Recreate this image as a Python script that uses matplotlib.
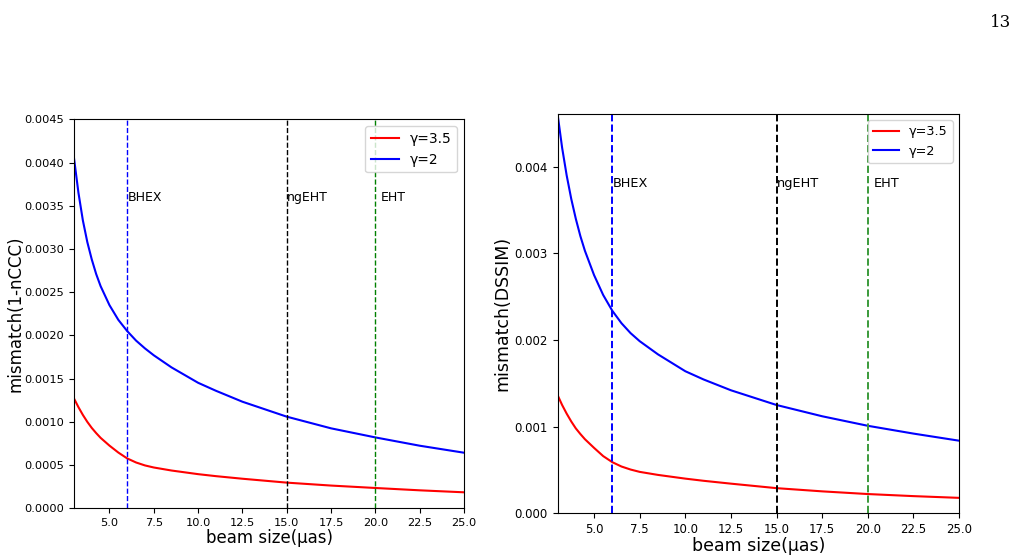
import numpy as np
import matplotlib
matplotlib.use("Agg")
import matplotlib.pyplot as plt

# values (beam size in uas), mismatch in units of 1e-3
beam = [3.0, 3.25, 3.5, 3.75, 4.0, 4.25, 4.5, 5.0, 5.5, 6.0, 6.5, 7.0, 7.5, 8.5, 10.0, 11.0, 12.5, 15.0, 17.5, 20.0, 22.5, 25.0]

nccc_g35 = [1.27, 1.17, 1.08, 1.00, 0.93, 0.87, 0.815, 0.725, 0.645, 0.577, 0.530, 0.496, 0.472, 0.437, 0.395, 0.372,
            0.342, 0.297, 0.263, 0.235, 0.208, 0.185]
nccc_g2 = [4.05, 3.65, 3.33, 3.08, 2.88, 2.71, 2.57, 2.35, 2.18, 2.05, 1.94, 1.85, 1.77, 1.63, 1.452, 1.36,
           1.233, 1.06, 0.925, 0.82, 0.724, 0.643]

dssim_g35 = [1.365, 1.25, 1.15, 1.06, 0.98, 0.915, 0.855, 0.755, 0.66, 0.59, 0.54, 0.505, 0.478, 0.443, 0.40, 0.375,
             0.342, 0.290, 0.253, 0.222, 0.198, 0.178]
dssim_g2 = [4.61, 4.22, 3.90, 3.63, 3.40, 3.20, 3.03, 2.75, 2.52, 2.338, 2.195, 2.08, 1.987, 1.835, 1.64, 1.545,
            1.42, 1.25, 1.12, 1.01, 0.92, 0.838]

facilities = ["BHEX", "ngEHT", "EHT"]
fac_beam = [6, 15, 20]
fac_text_x = [6.05, 15.0, 20.3]

xt = [5.0, 7.5, 10.0, 12.5, 15.0, 17.5, 20.0, 22.5, 25.0]

plt.rcParams['font.family'] = 'DejaVu Sans'
fig = plt.figure(figsize=(10.18, 5.59), dpi=100)

fig.text(0.993, 0.975, "13", ha='right', va='top', fontsize=12, family='DejaVu Serif')

#### left panel: 1-nCCC
ax1 = fig.add_axes([0.0727, 0.0907, 0.3831, 0.6959])
ax1.plot(beam, np.array(nccc_g35) * 1e-3, color='red', lw=1.5, label='γ=3.5')
ax1.plot(beam, np.array(nccc_g2) * 1e-3, color='blue', lw=1.5, label='γ=2')
for xv, c in zip(fac_beam, ['blue', 'black', 'green']):
    ax1.axvline(xv, color=c, ls='--', lw=1)
for name, tx in zip(facilities, fac_text_x):
    ax1.text(tx, 0.00355, name, fontsize=9)
ax1.set_xlim(3, 25)
ax1.set_ylim(0, 0.0045)
ax1.set_xticks(xt)
yt1 = np.arange(0, 0.0046, 0.0005)
ax1.set_yticks(yt1)
ax1.set_yticklabels(['%.4f' % v for v in yt1])
ax1.tick_params(labelsize=8.2)
ax1.set_xlabel('beam size(μas)', fontsize=12, labelpad=1)
ax1.set_ylabel('mismatch(1-nCCC)', fontsize=12, labelpad=0)
ax1.legend(loc='upper right', fontsize=10)

#### right panel: DSSIM
ax2 = fig.add_axes([0.5477, 0.0818, 0.3944, 0.7143])
ax2.plot(beam, np.array(dssim_g35) * 1e-3, color='red', lw=1.5, label='γ=3.5')
ax2.plot(beam, np.array(dssim_g2) * 1e-3, color='blue', lw=1.5, label='γ=2')
for xv, c in zip(fac_beam, ['blue', 'black', '#3a9a3a']):
    ax2.axvline(xv, color=c, ls='--', lw=1.4)
for name, tx in zip(facilities, fac_text_x):
    ax2.text(tx, 0.00377, name, fontsize=9.3)
ax2.set_xlim(3, 25)
ax2.set_ylim(0, max(dssim_g2) * 1e-3)
ax2.set_xticks(xt)
ax2.set_yticks([0, 0.001, 0.002, 0.003, 0.004])
ax2.set_yticklabels(['0.000', '0.001', '0.002', '0.003', '0.004'])
ax2.tick_params(labelsize=8.5)
ax2.set_xlabel('beam size(μas)', fontsize=12.5, labelpad=1)
ax2.set_ylabel('mismatch(DSSIM)', fontsize=12.5, labelpad=2)
ax2.legend(loc='upper right', fontsize=9.2)

fig.savefig('out.png', dpi=100)
